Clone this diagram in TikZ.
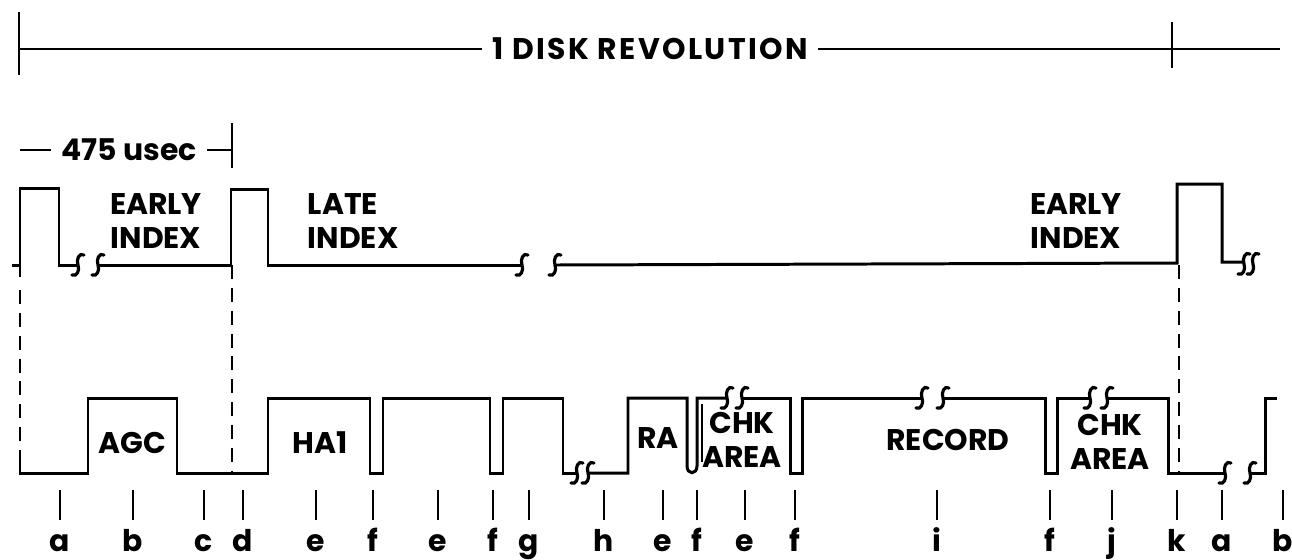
\documentclass[tikz,border=0pt]{standalone}
\usepackage{fontspec}
\setmainfont{Poppins}
\begin{document}
\begin{tikzpicture}[x=0.02cm,y=-0.02cm,line width=1.3pt,
  lbl/.style={font=\bfseries\fontsize{17}{19.5}\selectfont,inner sep=1pt},
  wave/.style={line width=1.7pt,line join=miter},
  guide/.style={line width=1.5pt,dash pattern=on 8pt off 5pt},
  brk/.pic={\draw[line width=1.8pt,line cap=round] (6,-10) .. controls (1,-13) and (-2,-5) .. (0,0) .. controls (2,5) and (-1,12) .. (-6,10);}]
\useasboundingbox (0,0) rectangle (1292,559);
% one revolution
\coordinate (r0) at (19,49);
\coordinate (r1) at (1280,49);
\node[lbl,inner sep=5pt] (rev) at (650,49) {\addfontfeature{LetterSpace=8}1 DISK REVOLUTION};
\draw (r0) -- (rev) -- (r1);
\draw (19,12) -- (19,75);
\draw (1172,22) -- (1172,68);
% index pulse width
\coordinate (u0) at (20,150);
\coordinate (u1) at (232,150);
\node[lbl,inner sep=5pt] (usec) at (129,150) {475 usec};
\draw (u0) -- (usec) -- (u1);
\draw (232,123) -- (232,168);
% index signal
\draw[wave] (12,265) -- (20,265);
\draw[wave] (20,277) -- (20,188) -- (59,188) -- (59,265) -- (78,265);
\pic at (78,265) {brk};
\pic at (98,265) {brk};
\draw[wave] (98,265) -- (231,265) -- (231,189) -- (268,189) -- (268,265) -- (522,265);
\pic at (522,265) {brk};
\pic at (555,265) {brk};
\draw[wave] (555,265) -- (1177,263) -- (1177,184) -- (1222,184) -- (1222,262) -- (1244,262);
\pic at (1244,264) {brk};
\pic at (1253,264) {brk};
\node[lbl,align=center] (early1) at (156,221) {EARLY\\INDEX};
\node[lbl,align=left,anchor=west] (late) at (305,221) {LATE\\INDEX};
\node[lbl,align=center] (early2) at (1076,221) {EARLY\\INDEX};
% guides
\draw[guide] (20,290) -- (20,458);
\draw[guide] (232,265) -- (232,473);
\draw[guide] (1179,265) -- (1179,473);
% track format
\draw[wave] (20,458) -- (20,473) -- (88,473) -- (88,398) -- (177,398) -- (177,473) -- (268,473) -- (268,398) -- (370,398) -- (370,473) -- (383,473) -- (383,398) -- (490,398) -- (490,473) -- (503,473) -- (503,398) -- (563,398) -- (563,473) -- (577,473);
\pic at (577,473) {brk};
\pic at (588,473) {brk};
\draw[wave] (588,473) -- (628,473) -- (628,398) -- (687,398) -- (687,466) .. controls (687,475) and (697,475) .. (697,466) -- (697,398) -- (727,398);
\draw[line width=1pt] (702,404) -- (702,462);
\pic at (727,398) {brk};
\pic at (742,398) {brk};
\draw[wave] (742,398) -- (790,398) -- (790,473) -- (802,473) -- (802,398) -- (922,398);
\pic at (922,398) {brk};
\pic at (943,398) {brk};
\draw[wave] (943,398) -- (1045,398) -- (1045,473) -- (1057,473) -- (1057,398) -- (1090,398);
\pic at (1090,398) {brk};
\pic at (1107,398) {brk};
\draw[wave] (1107,398) -- (1168,398) -- (1168,473) -- (1225,473);
\pic at (1225,473) {brk};
\pic at (1250,473) {brk};
\draw[wave] (1250,473) -- (1265,473) -- (1265,398) -- (1277,398);
\node[lbl] (agc) at (132,443) {AGC};
\node[lbl] (ha1) at (320,443) {HA1};
\node[lbl] (ra) at (658,438) {RA};
\node[lbl,align=center] (chk1) at (742,440) {CHK\\AREA};
\node[lbl] (rec) at (948,440) {RECORD};
\node[lbl,align=center] (chk2) at (1110,442) {CHK\\AREA};
% field marks
\foreach \x/\l [count=\i] in {60/a,133/b,204/c,243/d,316/e,373/f,438/e,493/f,529/g,604/h,663/e,697/f,745/e,795/f,937/i,1050/f,1112/j,1177/k,1222/a,1283/b}{
  \draw (\x,490) -- (\x,520);
  \node[lbl,anchor=base] (m\i) at (\x,551) {\l};
}
\end{tikzpicture}
\end{document}
